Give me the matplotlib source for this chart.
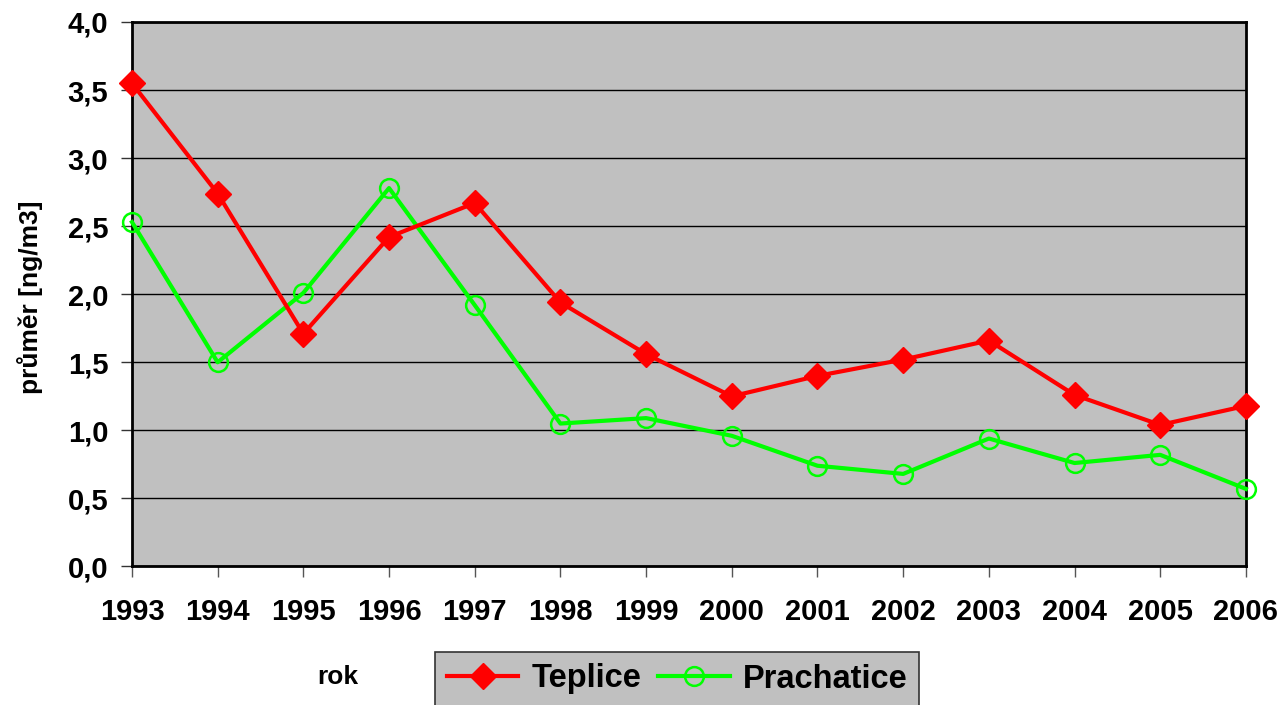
import numpy as np
import matplotlib
matplotlib.use("Agg")
import matplotlib.pyplot as plt

plt.rcParams['font.family'] = ['Liberation Sans', 'DejaVu Sans']
plt.rcParams['font.weight'] = 'bold'

# roční průměry
roky = ['1993', '1994', '1995', '1996', '1997', '1998', '1999',
        '2000', '2001', '2002', '2003', '2004', '2005', '2006']
teplice = [3.55, 2.74, 1.71, 2.42, 2.67, 1.94, 1.56,
           1.25, 1.40, 1.52, 1.66, 1.26, 1.04, 1.18]
prachatice = [2.53, 1.50, 2.01, 2.78, 1.92, 1.05, 1.09,
              0.96, 0.74, 0.68, 0.94, 0.76, 0.82, 0.57]
y_ticks = [0.0, 0.5, 1.0, 1.5, 2.0, 2.5, 3.0, 3.5, 4.0]

fig = plt.figure(figsize=(12.85, 7.05), dpi=100)
ax = fig.add_axes([0.1027, 0.1965, 0.8669, 0.7723])
ax.set_facecolor('#c0c0c0')

x = np.arange(len(roky))
ax.plot(x, teplice, color='#ff0000', lw=3, marker='D', markersize=13.5,
        label='Teplice', zorder=4, clip_on=False)
ax.plot(x, prachatice, color='#00ff00', lw=3, marker='o', markersize=13.5,
        markerfacecolor='none', markeredgewidth=1.8, label='Prachatice',
        zorder=3, clip_on=False)

ax.set_xlim(0, len(roky) - 1)
ax.set_ylim(0, 4.0)
ax.set_xticks(x)
ax.set_xticklabels(roky, fontsize=21, fontweight='bold')
ax.set_yticks(y_ticks)
ax.set_yticklabels([f'{v:.1f}'.replace('.', ',') for v in y_ticks],
                   fontsize=21, fontweight='bold')
ax.tick_params(axis='x', direction='out', length=8, width=1, color='#555555', pad=15)
ax.tick_params(axis='y', direction='out', length=8, width=1, color='#333333', pad=9)
ax.grid(axis='y', color='black', lw=1)
ax.set_axisbelow(True)
for s in ax.spines.values():
    s.set_linewidth(2)
    s.set_color('black')

ax.set_ylabel('průměr [ng/m3]', fontsize=19, fontweight='bold')
ax.yaxis.set_label_coords(-0.08, 0.494)
fig.text(338 / 1285, 1 - 677 / 705, 'rok', fontsize=19, fontweight='bold',
         ha='center', va='center')

leg = fig.legend(loc='center', bbox_to_anchor=(677 / 1285, 1 - 679 / 705),
                 ncol=2, fontsize=23.5, frameon=True, fancybox=False,
                 handlelength=2.2, columnspacing=0.5, handletextpad=0.4,
                 borderpad=0.35)
leg.get_frame().set_facecolor('#c0c0c0')
leg.get_frame().set_edgecolor('#333333')
leg.get_frame().set_linewidth(1.2)
leg.get_frame().set_alpha(1)
for t in leg.get_texts():
    t.set_fontweight('bold')

fig.savefig('out.png', dpi=100)
